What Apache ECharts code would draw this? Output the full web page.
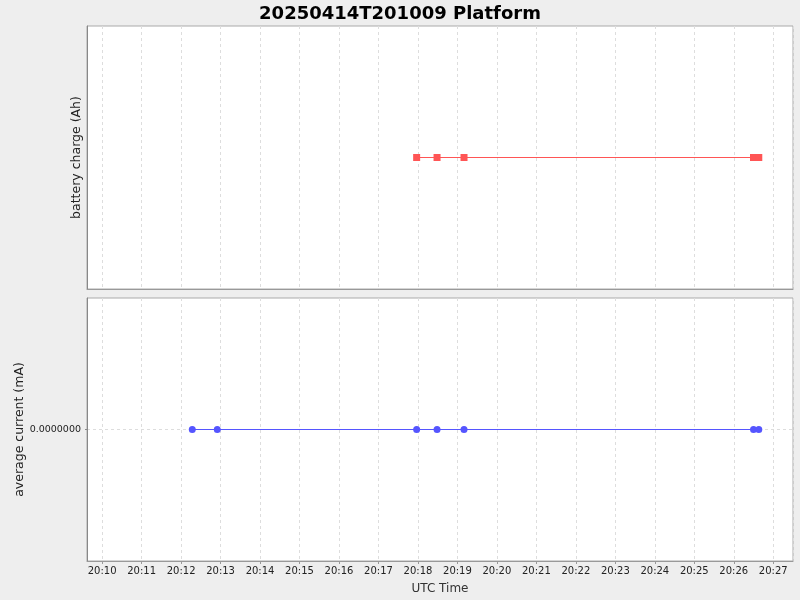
<!DOCTYPE html>
<html>
<head>
<meta charset="utf-8">
<script src="https://cdn.jsdelivr.net/npm/echarts@6/dist/echarts.min.js"></script>
<style>
html, body { margin: 0; padding: 0; background: #eeeeee; }
#chart { width: 800px; height: 600px; }
</style>
</head>
<body>
<div id="chart"></div>
<script>
var chart = echarts.init(document.getElementById('chart'));

// sample times (UTC)
var chargeTimes = ['2025-04-14T20:17:58Z', '2025-04-14T20:18:29Z', '2025-04-14T20:19:10Z', '2025-04-14T20:26:30Z', '2025-04-14T20:26:38Z'];
var chargeValues = [0, 0, 0, 0, 0];
var currentTimes = ['2025-04-14T20:12:17Z', '2025-04-14T20:12:55Z', '2025-04-14T20:17:58Z', '2025-04-14T20:18:29Z', '2025-04-14T20:19:10Z', '2025-04-14T20:26:30Z', '2025-04-14T20:26:38Z'];
var currentValues = [0, 0, 0, 0, 0, 0, 0];

var xMin = Date.parse('2025-04-14T20:09:37Z');
var xMax = Date.parse('2025-04-14T20:27:30Z');
var font = 'DejaVu Sans';

function pairs(times, vals) {
    var out = [];
    for (var i = 0; i < times.length; i++) {
        out.push([Date.parse(times[i]), vals[i]]);
    }
    return out;
}

function hhmm(v) {
    var d = new Date(v);
    var h = d.getUTCHours(), m = d.getUTCMinutes();
    return (h < 10 ? '0' : '') + h + ':' + (m < 10 ? '0' : '') + m;
}

var gridLine = { show: true, lineStyle: { color: '#dddddd', type: [3, 3], width: 1 } };

function xAxis(idx, showLabels) {
    return {
        type: 'time',
        gridIndex: idx,
        min: xMin,
        max: xMax,
        minInterval: 60000,
        maxInterval: 60000,
        splitLine: gridLine,
        axisLine: { show: true, onZero: false, lineStyle: { color: '#999999' } },
        axisTick: { show: showLabels, length: 3, lineStyle: { color: '#999999' } },
        axisLabel: {
            show: showLabels,
            formatter: hhmm,
            fontFamily: font,
            fontSize: 10,
            color: '#222222',
            margin: 5,
            showMinLabel: false,
            showMaxLabel: false
        },
        name: showLabels ? 'UTC Time' : '',
        nameLocation: 'middle',
        nameGap: 22,
        nameTextStyle: { fontFamily: font, fontSize: 12, color: '#333333' }
    };
}

option = {
    useUTC: true,
    backgroundColor: '#eeeeee',
    animation: false,
    title: {
        text: '20250414T201009 Platform',
        left: 'center',
        top: 0,
        textStyle: { fontFamily: font, fontSize: 18, fontWeight: 'bold', color: '#000000' }
    },
    grid: [
        { left: 87, right: 7, top: 26, height: 263, outerBoundsMode: 'none', show: true, backgroundColor: '#ffffff', borderColor: '#aaaaaa', borderWidth: 1 },
        { left: 87, right: 7, top: 298, height: 263, outerBoundsMode: 'none', show: true, backgroundColor: '#ffffff', borderColor: '#aaaaaa', borderWidth: 1 }
    ],
    xAxis: [xAxis(0, false), xAxis(1, true)],
    yAxis: [
        {
            type: 'value',
            gridIndex: 0,
            min: -1,
            max: 1,
            interval: 1,
            splitLine: { show: false },
            axisLine: { show: true, onZero: false, lineStyle: { color: '#888888' } },
            axisTick: { show: false },
            axisLabel: { show: false },
            name: 'battery charge (Ah)',
            nameLocation: 'middle',
            nameGap: 4,
            nameTextStyle: { fontFamily: font, fontSize: 12.5, color: '#222222' }
        },
        {
            type: 'value',
            gridIndex: 1,
            min: -1,
            max: 1,
            interval: 1,
            splitLine: gridLine,
            axisLine: { show: true, onZero: false, lineStyle: { color: '#888888' } },
            axisTick: { show: true, length: 2, customValues: [0], lineStyle: { color: '#888888' } },
            axisLabel: {
                fontFamily: font,
                fontSize: 9.5,
                color: '#222222',
                margin: 6,
                customValues: [0],
                formatter: function (v) { return '0.0000000'; }
            },
            name: 'average current (mA)',
            nameLocation: 'middle',
            nameMoveOverlap: false,
            nameGap: 61,
            nameTextStyle: { fontFamily: font, fontSize: 12.5, color: '#222222' }
        }
    ],
    series: [
        {
            name: 'battery charge',
            type: 'line',
            xAxisIndex: 0,
            yAxisIndex: 0,
            data: pairs(chargeTimes, chargeValues),
            symbol: 'rect',
            symbolSize: 7,
            showAllSymbol: true,
            itemStyle: { color: '#ff5555' },
            lineStyle: { color: '#ff5555', width: 1 }
        },
        {
            name: 'average current',
            type: 'line',
            xAxisIndex: 1,
            yAxisIndex: 1,
            data: pairs(currentTimes, currentValues),
            symbol: 'circle',
            symbolSize: 7,
            showAllSymbol: true,
            itemStyle: { color: '#5555ff' },
            lineStyle: { color: '#5555ff', width: 1 }
        }
    ]
};

chart.setOption(option);
</script>
</body>
</html>
